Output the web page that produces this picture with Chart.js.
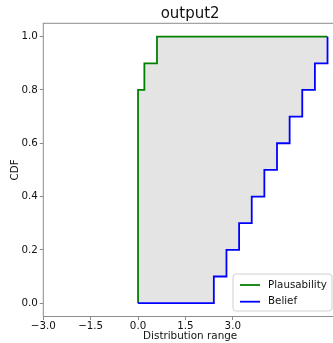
<!DOCTYPE html>
<html>
<head>
<meta charset="utf-8">
<script src="https://cdn.jsdelivr.net/npm/chart.js@4/dist/chart.umd.min.js"></script>
<style>
  html, body { margin: 0; padding: 0; overflow: hidden; background: #fff; }
  canvas { display: block; }
</style>
</head>
<body>
<!-- the canvas is a few pixels wider than the window; the right spine falls just outside view -->
<canvas id="cdf" width="337" height="343"></canvas>
<script>
// Labels
const titleText = 'output2';
const xLabel = 'Distribution range';
const yLabel = 'CDF';
const seriesNames = ['Plausability', 'Belief'];

// Upper bound (plausibility) step CDF: jump locations and cumulative values
const plausX = [0.0, 0.0, 0.2, 0.6, 6.0];
const plausCdf = [0.0, 0.8, 0.9, 1.0, 1.0];

// Lower bound (belief) step CDF
const beliefX = [0.0, 2.4, 2.8, 3.2, 3.6, 4.0, 4.4, 4.8, 5.2, 5.6, 6.0];
const beliefCdf = [0.0, 0.1, 0.2, 0.3, 0.4, 0.5, 0.6, 0.7, 0.8, 0.9, 1.0];

// Axis ticks and limits
const xTicks = [-3.0, -1.5, 0.0, 1.5, 3.0];
const yTicks = [0.0, 0.2, 0.4, 0.6, 0.8, 1.0];
const xRange = [-3.0, 6.3];
const yRange = [-0.05, 1.05];

const FONT = 'DejaVu Sans';
const toPoints = (xs, ys) => xs.map((x, i) => ({ x: x, y: ys[i] }));
const fmt = v => v.toFixed(1).replace('-', '\u2212');

// Box around the plotting area (all four spines)
const framePlugin = {
  id: 'frame',
  afterDatasetsDraw(chart) {
    const { ctx, chartArea: a } = chart;
    ctx.save();
    ctx.strokeStyle = '#8c8c8c';
    ctx.lineWidth = 1;
    ctx.strokeRect(a.left, a.top, a.right - a.left, a.bottom - a.top);
    ctx.restore();
  }
};

// Legend box in the lower right corner of the plotting area
const cornerLegend = {
  id: 'cornerLegend',
  afterDraw(chart) {
    const { ctx, chartArea: a } = chart;
    const w = 99, h = 37, r = 3;
    const x = a.right - 5 - w, y = a.bottom - 5.5 - h;
    ctx.save();
    ctx.beginPath();
    ctx.roundRect(x, y, w, h, r);
    ctx.fillStyle = 'rgba(255,255,255,0.8)';
    ctx.fill();
    ctx.strokeStyle = '#d0d0d0';
    ctx.lineWidth = 1;
    ctx.stroke();
    ctx.font = '10.3px "' + FONT + '"';
    ctx.textBaseline = 'middle';
    ctx.textAlign = 'left';
    chart.data.datasets.forEach((ds, i) => {
      const cy = y + 11 + i * 16.7;
      ctx.beginPath();
      ctx.moveTo(x + 7, cy);
      ctx.lineTo(x + 27, cy);
      ctx.strokeStyle = ds.borderColor;
      ctx.lineWidth = 1.8;
      ctx.stroke();
      ctx.fillStyle = '#111';
      ctx.fillText(ds.label, x + 35, cy);
    });
    ctx.restore();
  }
};

new Chart(document.getElementById('cdf'), {
  type: 'line',
  data: {
    datasets: [
      {
        label: seriesNames[0],
        data: toPoints(plausX, plausCdf),
        borderColor: '#008000',
        borderWidth: 1.8,
        stepped: 'before',
        pointRadius: 0,
        fill: { target: '+1' },
        backgroundColor: '#e4e4e4',
        order: 2
      },
      {
        label: seriesNames[1],
        data: toPoints(beliefX, beliefCdf),
        borderColor: '#0000ff',
        borderWidth: 1.8,
        stepped: 'before',
        pointRadius: 0,
        fill: false,
        order: 1
      }
    ]
  },
  options: {
    responsive: false,
    animation: false,
    layout: { padding: 0 },
    plugins: {
      legend: { display: false },
      tooltip: { enabled: false },
      title: {
        display: true,
        text: titleText,
        fullSize: false,
        color: '#111',
        font: { family: FONT, size: 15, weight: 'normal' },
        padding: { top: 5.3, bottom: 0 }
      }
    },
    scales: {
      x: {
        type: 'linear',
        min: xRange[0],
        max: xRange[1],
        afterBuildTicks: s => { s.ticks = xTicks.map(v => ({ value: v })); },
        afterFit: s => { s.height = 26.5; },
        grid: { drawOnChartArea: false, drawTicks: true, tickLength: 3.5, color: '#8c8c8c' },
        border: { display: false },
        ticks: {
          padding: 0,
          color: '#111',
          font: { family: FONT, size: 10.3 },
          autoSkip: false,
          maxRotation: 0,
          callback: v => fmt(v)
        },
        title: {
          display: true,
          text: xLabel,
          color: '#111',
          font: { family: FONT, size: 10.4 },
          padding: { top: 0, bottom: 0.8 }
        }
      },
      y: {
        type: 'linear',
        min: yRange[0],
        max: yRange[1],
        afterBuildTicks: s => { s.ticks = yTicks.map(v => ({ value: v })); },
        afterFit: s => { s.width = 43.3; },
        grid: { drawOnChartArea: false, drawTicks: true, tickLength: 3.5, color: '#8c8c8c' },
        border: { display: false },
        ticks: {
          padding: 2,
          color: '#111',
          font: { family: FONT, size: 10.3 },
          autoSkip: false,
          callback: v => fmt(v)
        },
        title: {
          display: true,
          text: yLabel,
          color: '#111',
          font: { family: FONT, size: 10.3 },
          padding: { top: 8.9, bottom: 0 }
        }
      }
    }
  },
  plugins: [framePlugin, cornerLegend]
});
</script>
</body>
</html>
